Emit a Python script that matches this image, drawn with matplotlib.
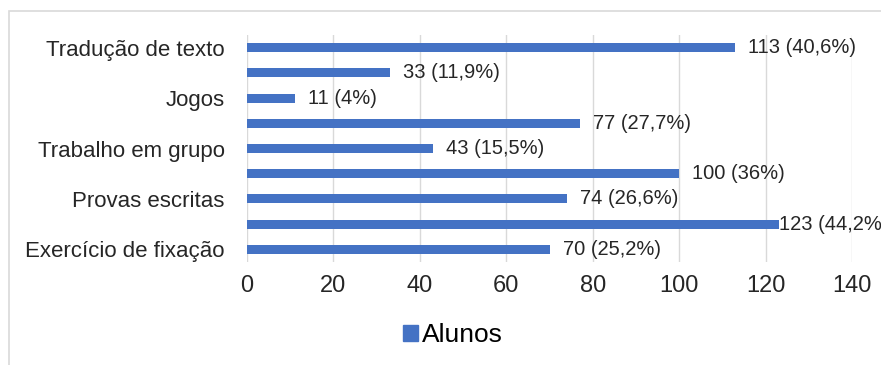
import matplotlib
matplotlib.use("Agg")
import matplotlib.pyplot as plt
from matplotlib.patches import Rectangle

plt.rcParams["font.family"] = ["Liberation Sans", "DejaVu Sans"]

# ----- data (top to bottom) -----
categories = [
    "Tradução de texto", "", "Jogos", "", "Trabalho em grupo",
    "", "Provas escritas", "", "Exercício de fixação",
]
alunos = [113, 33, 11, 77, 43, 100, 74, 123, 70]
percent = ["40,6", "11,9", "4", "27,7", "15,5", "36", "26,6", "44,2", "25,2"]
xticks = [0, 20, 40, 60, 80, 100, 120, 140]

BLUE = "#4472C4"
GRID = "#d9d9d9"
TEXT = "#262626"

fig = plt.figure(figsize=(8.81, 3.65), dpi=100)
fig.patches.append(Rectangle((9 / 881, -0.1), 1.1, 1 - 11 / 365 + 0.1,
                             transform=fig.transFigure, fill=False,
                             edgecolor=GRID, lw=1.2))

ax = fig.add_axes([247 / 881, 1 - 262 / 365, 605 / 881, 227 / 365])
ypos = list(range(len(alunos)))
ax.barh(ypos, alunos, height=0.36, color=BLUE, zorder=3)

ax.set_ylim(len(alunos) - 0.5, -0.5)
ax.set_xlim(0, 140)
ax.set_xticks(xticks)
ax.set_yticks(ypos)
ax.set_yticklabels(categories)
ax.tick_params(axis="y", length=0, pad=16, labelsize=16, labelcolor=TEXT)
ax.tick_params(axis="x", length=0, pad=9, labelsize=17, labelcolor=TEXT)
ax.grid(axis="x", color=GRID, lw=1, zorder=0)
for s in ax.spines.values():
    s.set_visible(False)

# value labels after each bar, pulled in when they run off the plot
for y, v, p in zip(ypos, alunos, percent):
    off = 13 if v < 120 else 0
    ax.annotate(f"{v} ({p}%)", (v, y), xytext=(off, 0),
                textcoords="offset pixels", va="center", ha="left",
                fontsize=14.5, color=TEXT, zorder=4, annotation_clip=False)

handle = Rectangle((0, 0), 1, 1, color=BLUE)
fig.legend([handle], ["Alunos"], loc="center", bbox_to_anchor=(453 / 881, 1 - 335 / 365),
           frameon=False, fontsize=19, handlelength=0.55, handleheight=0.55,
           handletextpad=0.15, labelcolor="black")

fig.savefig("out.png", dpi=100)
